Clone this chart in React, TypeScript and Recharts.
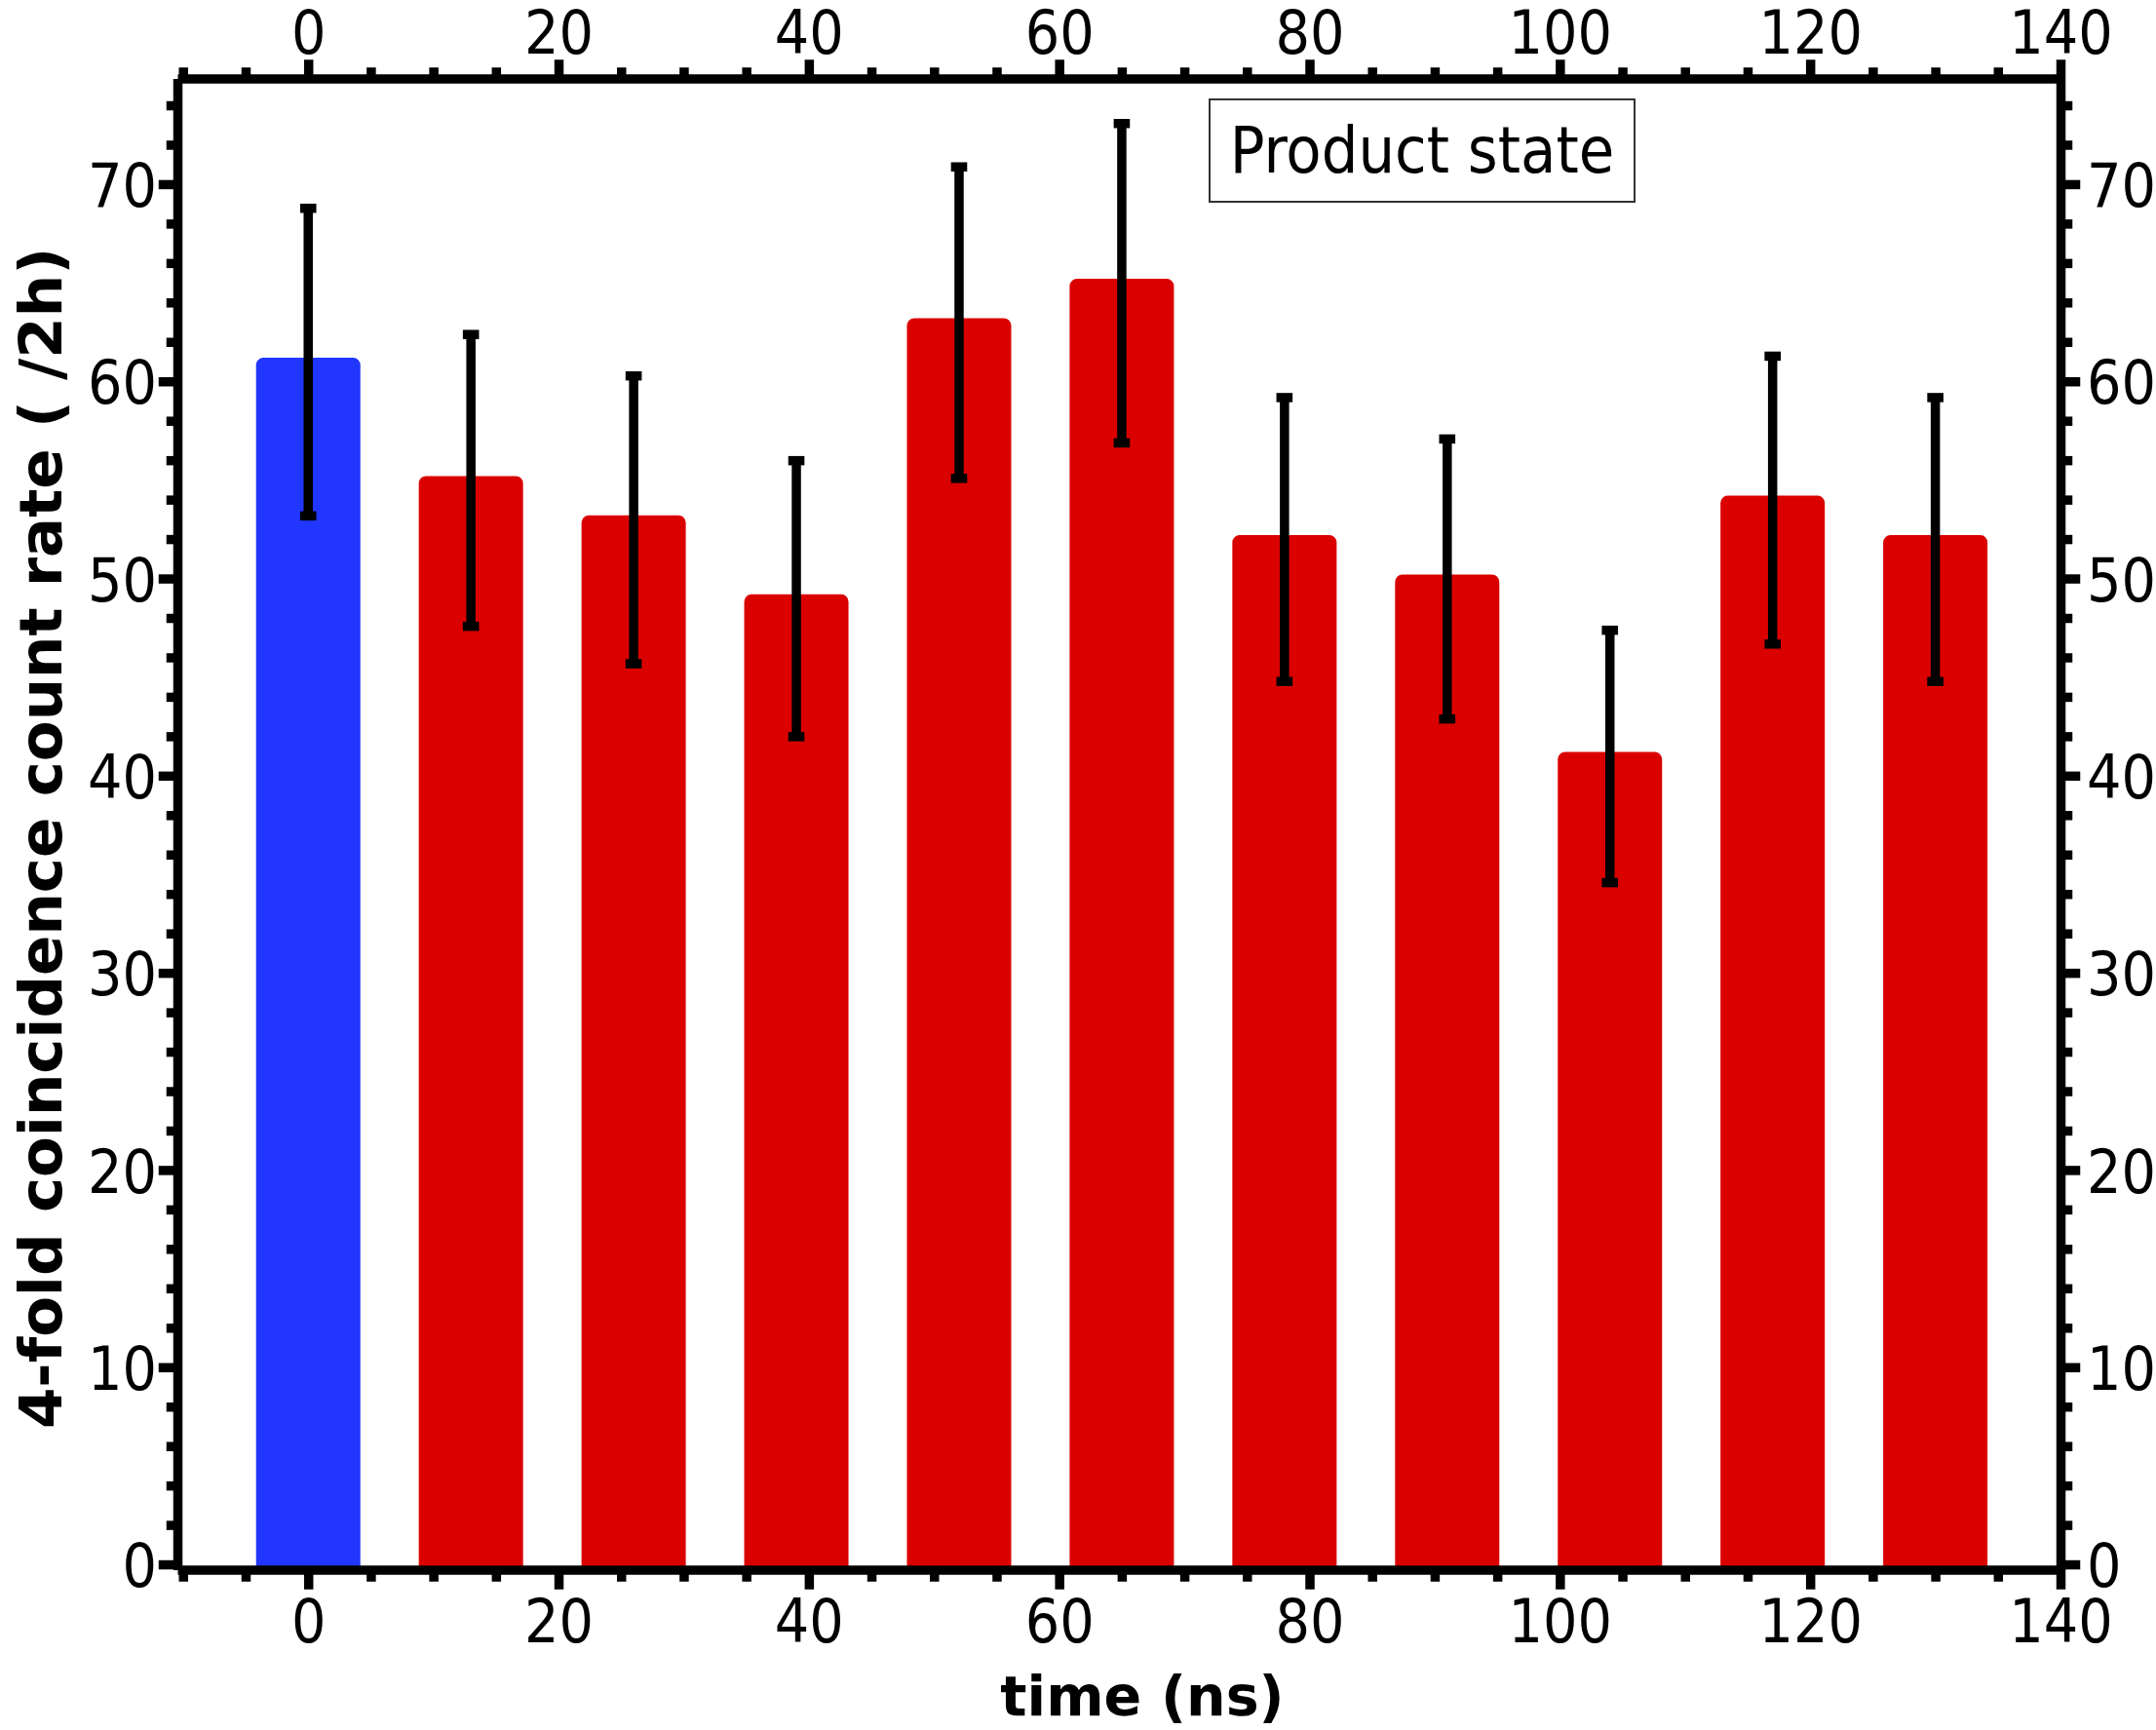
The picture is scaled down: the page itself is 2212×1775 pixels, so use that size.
import React from "react";
import { ComposedChart, Bar, XAxis, YAxis, ErrorBar, Cell, Legend, Label } from "recharts";

// delay time of each measurement (ns)
const times = [0, 13, 26, 39, 52, 65, 78, 91, 104, 117, 130];
// 4-fold coincidences per 2h
const counts = [61, 55, 53, 49, 63, 65, 52, 50, 41, 54, 52];
const errors = [7.8, 7.4, 7.3, 7.0, 7.9, 8.1, 7.2, 7.1, 6.4, 7.3, 7.2];

const xMajorTicks = [0, 20, 40, 60, 80, 100, 120, 140];
const xMinorTicks = [-10, -5, 5, 10, 15, 25, 30, 35, 45, 50, 55, 65, 70, 75, 85, 90, 95, 105, 110, 115, 125, 130, 135];
const yMajorTicks = [0, 10, 20, 30, 40, 50, 60, 70];
const yMinorTicks = [2, 4, 6, 8, 12, 14, 16, 18, 22, 24, 26, 28, 32, 34, 36, 38, 42, 44, 46, 48, 52, 54, 56, 58, 62, 64, 66, 68, 72, 74];

const data = times.map((t, i) => ({ time: t, count: counts[i], err: errors[i] }));

const BLUE = "#2136FF";
const RED = "#DA0000";
const AXIS_W = 9.5;
const TICK_FONT = "'DejaVu Sans Condensed', 'DejaVu Sans', sans-serif";
const TICK_SIZE = 62;
const LABEL_FONT = "'DejaVu Sans', sans-serif";

const xTicks = [...xMinorTicks, ...xMajorTicks].sort((a, b) => a - b);
const yTicks = [...yMinorTicks, ...yMajorTicks].sort((a, b) => a - b);

function makeTick(side: "bottom" | "top" | "left" | "right", majors: number[]) {
  return (props: any) => {
    const { x, y, payload } = props;
    const v = payload.value;
    const major = majors.includes(v);
    const len = (major ? 15 : 7) + AXIS_W / 2;
    let line = { x1: x, y1: y, x2: x, y2: y };
    let tx = x;
    let ty = y;
    let anchor = "middle";
    if (side === "bottom") {
      line.y2 = y + len;
      ty = y + 74;
    } else if (side === "top") {
      line.y2 = y - len;
      ty = y - 26;
    } else if (side === "left") {
      line.x2 = x - len;
      tx = x - 21.5;
      ty = y + TICK_SIZE * 0.3645;
      anchor = "end";
    } else {
      line.x2 = x + len;
      tx = x + 26.5;
      ty = y + TICK_SIZE * 0.3645;
      anchor = "start";
    }
    return (
      <g>
        <line {...line} stroke="#000" strokeWidth={AXIS_W} />
        {major && (
          <text x={tx} y={ty} textAnchor={anchor} fontFamily={TICK_FONT} fontSize={TICK_SIZE} fill="#000">
            {v}
          </text>
        )}
      </g>
    );
  };
}

const axisLine = { stroke: "#000", strokeWidth: AXIS_W };

export default function App() {
  return (
    <div style={{ width: 2212, height: 1775, position: "relative", background: "#fff" }}>
      <style>{"body{margin:0;}"}</style>
      <ComposedChart
        width={2212}
        height={1775}
        data={data}
        margin={{ top: 11, right: 7.5, bottom: 14, left: 12.5 }}
      >
        <XAxis
          xAxisId="bottom"
          dataKey="time"
          type="number"
          domain={[-10.45, 140]}
          allowDataOverflow
          ticks={xTicks}
          interval={0}
          tickSize={0}
          tickMargin={0}
          tickLine={false}
          axisLine={axisLine}
          tick={makeTick("bottom", xMajorTicks)}
          height={150}
        >
          <Label
            content={() => (
              <text x={1172} y={1760} textAnchor="middle" fontFamily={LABEL_FONT} fontWeight="bold" fontSize={57} fill="#000">
                time (ns)
              </text>
            )}
          />
        </XAxis>
        <XAxis
          xAxisId="top"
          orientation="top"
          dataKey="time"
          type="number"
          domain={[-10.45, 140]}
          allowDataOverflow
          ticks={xTicks}
          interval={0}
          tickSize={0}
          tickMargin={0}
          tickLine={false}
          axisLine={axisLine}
          tick={makeTick("top", xMajorTicks)}
          height={70}
        />
        <YAxis
          yAxisId="left"
          type="number"
          domain={[-0.27, 75.36]}
          allowDataOverflow
          ticks={yTicks}
          interval={0}
          tickSize={0}
          tickMargin={0}
          tickLine={false}
          axisLine={axisLine}
          tick={makeTick("left", yMajorTicks)}
          width={170}
        >
          <Label
            content={() => (
              <text
                x={63}
                y={860}
                transform="rotate(-90 63 860)"
                textAnchor="middle"
                fontFamily={LABEL_FONT}
                fontWeight="bold"
                fontSize={61}
                fill="#000"
              >
                4-fold coincidence count rate ( /2h)
              </text>
            )}
          />
        </YAxis>
        <YAxis
          yAxisId="right"
          orientation="right"
          type="number"
          domain={[-0.27, 75.36]}
          allowDataOverflow
          ticks={yTicks}
          interval={0}
          tickSize={0}
          tickMargin={0}
          tickLine={false}
          axisLine={axisLine}
          tick={makeTick("right", yMajorTicks)}
          width={90}
        />
        <Legend
          layout="horizontal"
          verticalAlign="middle"
          align="center"
          wrapperStyle={{ left: 1240, top: 101, width: 438, height: 107 }}
          content={() => (
            <div
              style={{
                boxSizing: "border-box",
                width: 438,
                height: 107,
                border: "2.5px solid #333",
                display: "flex",
                alignItems: "center",
                justifyContent: "center",
                fontFamily: TICK_FONT,
                fontSize: 66,
                color: "#000",
                lineHeight: 1,
              }}
            >
              Product state
            </div>
          )}
        />
        <Bar
          xAxisId="bottom"
          yAxisId="left"
          dataKey="count"
          barSize={98}
          strokeWidth={9}
          radius={[3, 3, 0, 0]}
          isAnimationActive={false}
        >
          {data.map((d, i) => (
            <Cell key={d.time} fill={i === 0 ? BLUE : RED} stroke={i === 0 ? BLUE : RED} />
          ))}
          <ErrorBar dataKey="err" width={8.3} strokeWidth={9.5} stroke="#000" direction="y" />
        </Bar>
      </ComposedChart>
    </div>
  );
}
